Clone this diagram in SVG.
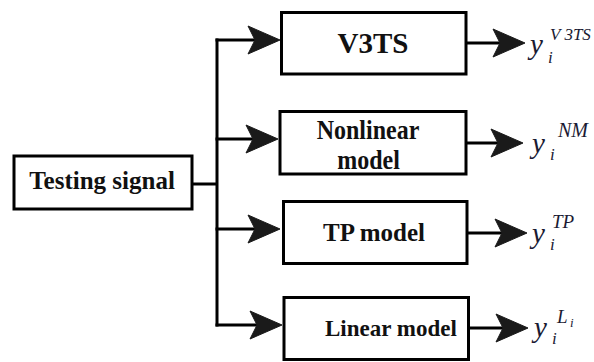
<svg xmlns="http://www.w3.org/2000/svg" xmlns:xlink="http://www.w3.org/1999/xlink" width="594" height="362" viewBox="0 0 594 362">
  <style>
    .box { fill: #ffffff; stroke: #000000; stroke-width: 3; }
    .wire { fill: none; stroke: #000000; stroke-width: 3; }
    .head { fill: #1a1a1a; stroke: #1a1a1a; stroke-width: 1; stroke-linejoin: round; }
    .lbl { font-family: 'Liberation Serif', 'Times New Roman', 'DejaVu Serif', serif; font-weight: 700; fill: #111111; }
    .math { font-family: 'Liberation Serif', 'Times New Roman', 'DejaVu Serif', serif; font-style: italic; fill: #1a1a33; }
  </style>
  <defs>
    <!-- dart-shaped arrowhead, tip at the origin, pointing right -->
    <path id="dart" d="M0,0 L-32,-14 L-25,0 L-32,14 Z"/>
  </defs>

  <g id="connectors">
    <!-- feed from the test signal into the distribution bus -->
    <line class="wire" x1="192" y1="184" x2="217" y2="184"/>
    <line class="wire" x1="217" y1="38.5" x2="217" y2="326.5"/>
    <!-- branches into each model -->
    <line class="wire" x1="215.5" y1="40" x2="275" y2="40"/>
    <use class="head" xlink:href="#dart" x="280" y="40"/>
    <line class="wire" x1="215.5" y1="139" x2="273" y2="139"/>
    <use class="head" xlink:href="#dart" x="278" y="139"/>
    <line class="wire" x1="215.5" y1="229" x2="275" y2="229"/>
    <use class="head" xlink:href="#dart" x="280" y="229"/>
    <line class="wire" x1="215.5" y1="325" x2="277" y2="325"/>
    <use class="head" xlink:href="#dart" x="282" y="325"/>
    <!-- model outputs -->
    <line class="wire" x1="466" y1="43" x2="520" y2="43"/>
    <use class="head" xlink:href="#dart" x="525" y="43"/>
    <line class="wire" x1="466" y1="143" x2="518" y2="143"/>
    <use class="head" xlink:href="#dart" x="523" y="143"/>
    <line class="wire" x1="467" y1="233" x2="522" y2="233"/>
    <use class="head" xlink:href="#dart" x="527" y="233"/>
    <line class="wire" x1="468" y1="328" x2="523" y2="328"/>
    <use class="head" xlink:href="#dart" x="528" y="328"/>
  </g>

  <g id="testing-signal">
    <rect class="box" x="14" y="156" width="178" height="53"/>
    <text class="lbl" x="102" y="189" font-size="25" text-anchor="middle">Testing signal</text>
  </g>

  <g id="v3ts">
    <rect class="box" x="281.5" y="12.5" width="184.5" height="61.5"/>
    <text class="lbl" x="373" y="53" font-size="29" text-anchor="middle">V3TS</text>
  </g>

  <g id="nonlinear-model">
    <rect class="box" x="280" y="111.5" width="186" height="62.5"/>
    <text class="lbl" font-size="24" text-anchor="middle" transform="translate(368,139) scale(1,1.15)">Nonlinear</text>
    <text class="lbl" font-size="24" text-anchor="middle" transform="translate(368.5,169) scale(1,1.15)">model</text>
  </g>

  <g id="tp-model">
    <rect class="box" x="283.5" y="201.5" width="183.5" height="62"/>
    <text class="lbl" x="374" y="241" font-size="25" text-anchor="middle">TP model</text>
  </g>

  <g id="linear-model">
    <rect class="box" x="284" y="297.5" width="184.5" height="62"/>
    <text class="lbl" x="325" y="336" font-size="23">Linear model</text>
  </g>

  <g id="out-v3ts" class="math">
    <text x="530" y="54" font-size="29">y</text>
    <text x="548" y="63" font-size="17">i</text>
    <text x="550" y="40" font-size="17">V<tspan dx="4">3TS</tspan></text>
  </g>

  <g id="out-nm" class="math">
    <text x="532" y="153" font-size="29">y</text>
    <text x="550" y="160" font-size="17">i</text>
    <text x="558" y="137" font-size="20">NM</text>
  </g>

  <g id="out-tp" class="math">
    <text x="532" y="243" font-size="29">y</text>
    <text x="550" y="250" font-size="17">i</text>
    <text x="552" y="228" font-size="19">TP</text>
  </g>

  <g id="out-linear" class="math">
    <text x="534" y="337" font-size="29">y</text>
    <text x="552" y="344" font-size="17">i</text>
    <text x="557" y="323" font-size="19">L</text>
    <text x="570" y="327" font-size="13">i</text>
  </g>
</svg>
